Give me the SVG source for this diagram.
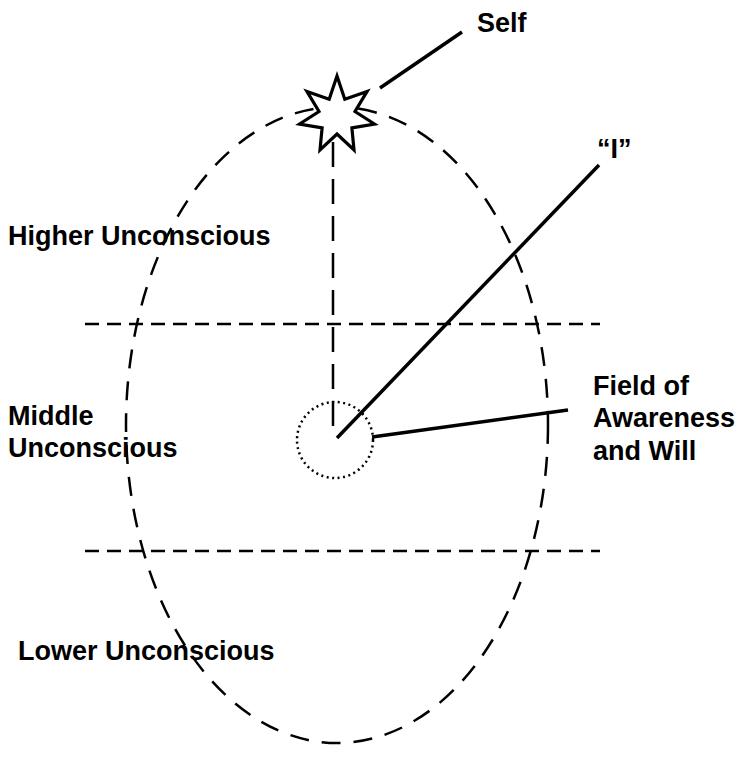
<svg xmlns="http://www.w3.org/2000/svg" width="743" height="771" viewBox="0 0 743 771">
<style>
text{font-family:"Liberation Sans",Arial,sans-serif;font-weight:bold;font-size:27px;fill:#000}
.dash{fill:none;stroke:#000;stroke-width:2.5}
.solid{fill:none;stroke:#000;stroke-width:3.5}
</style>
<rect width="743" height="771" fill="#fff"/>
<g id="ellipse"><ellipse class="dash" cx="337" cy="425" rx="211" ry="318" stroke-dasharray="19,13"/></g>
<g id="levels">
<line class="dash" x1="85" y1="324" x2="600" y2="324" stroke-dasharray="14,8"/>
<line class="dash" x1="85" y1="551" x2="600" y2="551" stroke-dasharray="14,8"/>
</g>
<g id="connectors">
<line class="dash" x1="333" y1="142" x2="333" y2="438" stroke-dasharray="25,12"/>
<line class="solid" x1="337" y1="438" x2="599" y2="165"/>
<line class="solid" x1="372" y1="437" x2="568" y2="410" stroke-width="3"/>
<line class="solid" x1="380" y1="88" x2="462" y2="32"/>
</g>
<g id="self-star"><polygon points="337,76 344.8,99.2 367.1,91.4 355,111.5 374.5,124 351.9,127.8 354,150 337,134 320,150 322.1,127.8 299.5,124 319,111.5 306.9,91.4 329.2,99.2" fill="#fff" stroke="#000" stroke-width="3.2" stroke-linejoin="miter"/></g>
<g id="field"><circle cx="335" cy="440" r="38" fill="none" stroke="#000" stroke-width="2.5" stroke-dasharray="2,3.5"/></g>
<g id="labels">
<text x="477" y="32">Self</text>
<text x="597" y="158">“I”</text>
<text x="8" y="245">Higher Unconscious</text>
<text x="8" y="425">Middle</text>
<text x="8" y="457">Unconscious</text>
<text x="593" y="395">Field of</text>
<text x="593" y="427">Awareness</text>
<text x="593" y="460">and Will</text>
<text x="18" y="660">Lower Unconscious</text>
</g>
</svg>
